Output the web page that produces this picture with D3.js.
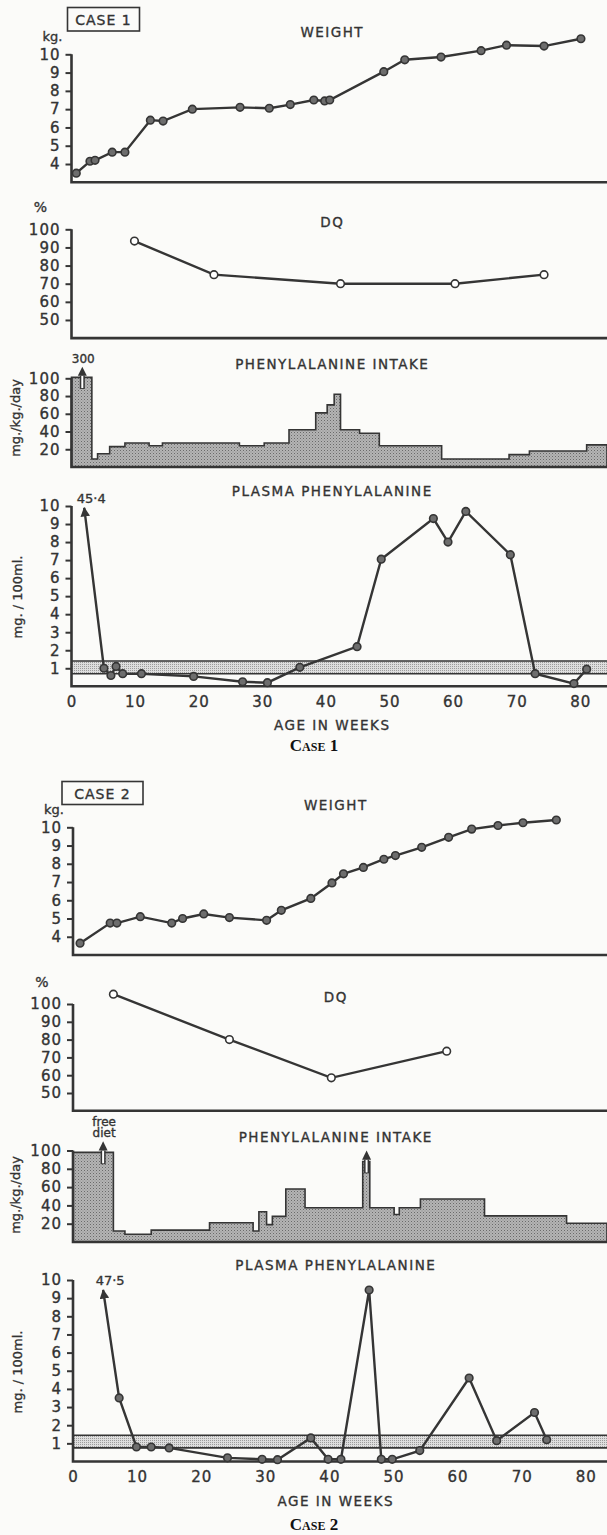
<!DOCTYPE html>
<html>
<head>
<meta charset="utf-8">
<script src="https://cdn.jsdelivr.net/npm/d3@7"></script>
<style>
body { margin: 0; background: #fbfbf9; }
svg { display: block; }
text { font-family: "DejaVu Sans", sans-serif; fill: #333; stroke: #333; stroke-width: 0.35px; }
.tick text { font-size: 15px; letter-spacing: 1px; }
.title { font-size: 13.5px; letter-spacing: 1.5px; text-anchor: middle; }
.unit { font-size: 13px; }
</style>
</head>
<body>
<svg id="chart" width="607" height="1535"></svg>
<script>
// ---- tick labels
var weightTicks = [4, 5, 6, 7, 8, 9, 10];
var dqTicks = [50, 60, 70, 80, 90, 100];
var intakeTicks = [20, 40, 60, 80, 100];
var plasmaTicks = [1, 2, 3, 4, 5, 6, 7, 8, 9, 10];
var weekTicks = [0, 10, 20, 30, 40, 50, 60, 70, 80];

// ---- case 1
var c1WeightWeeks = [0.75, 2.9, 3.7, 6.4, 8.4, 12.4, 14.4, 19, 26.5, 31.1, 34.4, 38.1, 39.8, 40.6, 49.1, 52.4, 58.1, 64.4, 68.4, 74.3, 80.1];
var c1WeightKg = [3.5, 4.15, 4.2, 4.65, 4.65, 6.4, 6.35, 7.0, 7.1, 7.05, 7.25, 7.5, 7.45, 7.5, 9.05, 9.7, 9.85, 10.2, 10.5, 10.45, 10.85];

var c1DqWeeks = [9.9, 22.4, 42.3, 60.3, 74.3];
var c1DqPct = [93.5, 75, 70, 70, 75];

var c1IntakeStart = [0, 3.2, 4.1, 6, 8.4, 12.2, 14.3, 26.4, 30.3, 34.2, 38.4, 40.2, 41.3, 42.3, 45.3, 48.4, 58.2, 68.8, 72, 81];
var c1IntakeDose = [300, 9, 15, 23, 27, 24, 27, 24, 27, 42, 61, 70, 82, 42, 38, 24, 9, 14, 18, 25];
var c1IntakeArrowWeeks = [1.7];
var c1IntakeArrowLabels = [["300"]];

var c1PlasmaWeeks = [2, 5.1, 6.2, 7, 8.05, 11, 19.2, 26.9, 30.8, 35.9, 44.9, 48.7, 56.9, 59.2, 62, 69, 72.9, 79, 81];
var c1PlasmaMg = [45.4, 1.0, 0.6, 1.1, 0.7, 0.7, 0.55, 0.25, 0.2, 1.05, 2.2, 7.05, 9.3, 8.0, 9.7, 7.3, 0.7, 0.15, 0.95];
var c1Band = [0.7, 1.4];

// ---- case 2
var c2WeightWeeks = [1.1, 5.8, 6.85, 10.5, 15.4, 17.1, 20.4, 24.4, 30.2, 32.5, 37.1, 40.4, 42.2, 45.3, 48.5, 50.3, 54.4, 58.6, 62.2, 66.3, 70.2, 75.4];
var c2WeightKg = [3.65, 4.75, 4.75, 5.1, 4.75, 5.0, 5.25, 5.05, 4.9, 5.45, 6.1, 6.95, 7.45, 7.8, 8.25, 8.45, 8.9, 9.45, 9.9, 10.1, 10.25, 10.4];

var c2DqWeeks = [6.3, 24.4, 40.3, 58.3];
var c2DqPct = [105.5, 80, 58.5, 73.5];

var c2IntakeStart = [0, 6.3, 8.1, 12.2, 21.3, 28.1, 29, 30.2, 31.1, 33.2, 36.2, 45.2, 46.3, 50.1, 50.9, 54.2, 64.2, 77];
var c2IntakeDose = [98, 12, 8.5, 13, 21, 12, 33, 19, 28, 58, 37.5, 88, 37.5, 30, 37.5, 47, 28.5, 20.5];
var c2IntakeArrowWeeks = [4.7, 45.8];
var c2IntakeArrowLabels = [["free", "diet"], []];

var c2PlasmaWeeks = [4.7, 7.2, 9.9, 12.2, 15, 24.1, 29.5, 31.9, 37.1, 39.8, 41.8, 46.2, 48.1, 49.8, 54.1, 61.8, 66.1, 72, 73.9];
var c2PlasmaMg = [47.5, 3.5, 0.8, 0.8, 0.75, 0.2, 0.12, 0.1, 1.3, 0.12, 0.12, 9.45, 0.12, 0.12, 0.6, 4.6, 1.15, 2.7, 1.2];
var c2Band = [0.75, 1.45];

var svg = d3.select("#chart"),
    width = +svg.attr("width");

var ink = "#353535";

var defs = svg.append("defs");
var stip = defs.append("pattern").attr("id", "stip")
    .attr("width", 3).attr("height", 3).attr("patternUnits", "userSpaceOnUse");
stip.append("rect").attr("width", 3).attr("height", 3).attr("fill", "#b4b4b4");
stip.append("rect").attr("width", 1).attr("height", 1).attr("fill", "#6a6a6a");
stip.append("rect").attr("x", 1.5).attr("y", 1.5).attr("width", 1).attr("height", 1).attr("fill", "#888");

var band = defs.append("pattern").attr("id", "band")
    .attr("width", 2).attr("height", 2).attr("patternUnits", "userSpaceOnUse");
band.append("rect").attr("width", 2).attr("height", 2).attr("fill", "#dedede");
band.append("rect").attr("width", 1).attr("height", 1).attr("fill", "#9c9c9c");

defs.append("marker").attr("id", "head")
    .attr("viewBox", "0 0 10 10").attr("refX", 9).attr("refY", 5)
    .attr("markerWidth", 4).attr("markerHeight", 4)
    .attr("markerUnits", "strokeWidth")
    .attr("orient", "auto-start-reverse")
  .append("path").attr("d", "M0,0L10,5L0,10Z").attr("fill", ink);

function yAxis(g, x0, y, ticks) {
    var ax = g.append("g")
        .attr("transform", "translate(" + x0 + ",0)")
        .call(d3.axisLeft(y).tickValues(ticks).tickFormat(d3.format("d")).tickSize(6).tickPadding(5));
    ax.select(".domain").remove();
    ax.selectAll(".tick line").attr("stroke", ink).attr("stroke-width", 2);
    ax.selectAll(".tick text").attr("fill", ink);
}

function frame(g, x0, y, top) {
    g.append("path")
        .attr("d", "M" + x0 + "," + y(top) + "V" + y.range()[0] + "H" + width)
        .attr("fill", "none").attr("stroke", ink).attr("stroke-width", 2.6);
}

function title(g, x, y, txt) {
    g.append("text").attr("class", "title").attr("x", x).attr("y", y).text(txt);
}

function rotLabel(g, x, y, txt) {
    g.append("text").attr("class", "unit")
        .attr("transform", "translate(" + x + "," + y + ") rotate(-90)")
        .attr("text-anchor", "middle").attr("dy", "0.35em")
        .text(txt);
}

function lineChart(g, x, y, weeks, vals, open, cap) {
    var pts = weeks.map(function(w, i) { return [w, Math.min(vals[i], cap)]; });
    g.append("path")
        .datum(pts)
        .attr("fill", "none").attr("stroke", ink).attr("stroke-width", 2.4)
        .attr("d", d3.line().x(function(d) { return x(d[0]); }).y(function(d) { return y(d[1]); }));
    g.selectAll(null).data(pts).enter().append("circle")
        .attr("cx", function(d) { return x(d[0]); })
        .attr("cy", function(d) { return y(d[1]); })
        .attr("r", 3.8)
        .attr("fill", open ? "#fff" : "#6d6d6d")
        .attr("stroke", ink).attr("stroke-width", 1.6);
}

function drawCase(c) {
    var g = svg.append("g");
    var x = d3.scaleLinear().domain([0, 80]).range([c.x0, c.x0 + 80 * c.pxWeek]);
    var xEnd = x.invert(width);
    var mx = x(41);

    // case box
    g.append("rect").attr("x", c.box[0]).attr("y", c.box[1]).attr("width", c.box[2]).attr("height", c.box[3])
        .attr("fill", "none").attr("stroke", ink).attr("stroke-width", 1.6);
    g.append("text").attr("x", c.box[0] + c.box[2] / 2).attr("y", c.box[1] + c.box[3] / 2 + 5.5)
        .attr("text-anchor", "middle").style("font-size", "14px").style("letter-spacing", "1px")
        .text(c.name);

    // weight
    var yw = d3.scaleLinear().domain([3, 10]).range(c.weightY);
    frame(g, c.x0, yw, 10);
    yAxis(g, c.x0, yw, weightTicks);
    g.append("text").attr("class", "unit").attr("x", c.x0 - 19).attr("y", yw(10) - 13)
        .attr("text-anchor", "middle").text("kg.");
    title(g, mx, yw(10) - 17, "WEIGHT");
    lineChart(g, x, yw, c.weightWeeks, c.weightKg, false, 99);

    // DQ
    var yd = d3.scaleLinear().domain([40, 100]).range(c.dqY);
    frame(g, c.x0, yd, 100);
    yAxis(g, c.x0, yd, dqTicks);
    g.append("text").attr("class", "unit").attr("x", c.x0 - 31).attr("y", yd(100) - 17)
        .attr("text-anchor", "middle").style("font-size", "14px").text("%");
    title(g, mx, c.dqTitleY, "DQ");
    lineChart(g, x, yd, c.dqWeeks, c.dqPct, true, 999);

    // intake
    var yi = d3.scaleLinear().domain([0, 100]).range(c.intakeY);
    var steps = c.intakeStart.map(function(s, i) { return [s, Math.min(c.intakeDose[i], 101)]; });
    steps.push([xEnd, steps[steps.length - 1][1]]);
    g.append("path")
        .datum(steps)
        .attr("fill", "url(#stip)").attr("stroke", ink).attr("stroke-width", 1.6)
        .attr("d", d3.area().curve(d3.curveStepAfter)
            .x(function(d) { return x(d[0]); })
            .y0(yi(0)).y1(function(d) { return yi(d[1]); }));
    frame(g, c.x0, yi, 100);
    yAxis(g, c.x0, yi, intakeTicks);
    rotLabel(g, 15, c.intakeLabelY, "mg./kg./day");
    title(g, mx, yi(100) - 9, "PHENYLALANINE  INTAKE");
    c.arrowWeeks.forEach(function(w, i) {
        var idx = d3.bisectRight(c.intakeStart, w) - 1;
        var top = Math.min(c.intakeDose[idx], 101);
        var ax = x(w);
        g.append("line").attr("x1", ax).attr("x2", ax).attr("y1", yi(top - 13)).attr("y2", yi(top + 2))
            .attr("stroke", ink).attr("stroke-width", 5);
        g.append("line").attr("x1", ax).attr("x2", ax).attr("y1", yi(top - 12)).attr("y2", yi(top + 2))
            .attr("stroke", "#fff").attr("stroke-width", 2);
        g.append("path")
            .attr("d", "M" + (ax - 4.5) + "," + yi(top + 2) + "L" + ax + "," + yi(top + 12) + "L" + (ax + 4.5) + "," + yi(top + 2) + "Z")
            .attr("fill", ink);
        c.arrowLabels[i].forEach(function(t, j, arr) {
            g.append("text").attr("x", ax + 1).attr("y", yi(top + 12) - 4 - (arr.length - 1 - j) * 11)
                .attr("text-anchor", "middle").style("font-size", "12px").text(t);
        });
    });

    // plasma
    var yp = d3.scaleLinear().domain([0, 10]).range(c.plasmaY);
    g.append("rect")
        .attr("x", c.x0).attr("width", width - c.x0)
        .attr("y", yp(c.band[1])).attr("height", yp(c.band[0]) - yp(c.band[1]))
        .attr("fill", "url(#band)");
    [c.band[0], c.band[1]].forEach(function(b) {
        g.append("line").attr("x1", c.x0).attr("x2", width).attr("y1", yp(b)).attr("y2", yp(b))
            .attr("stroke", ink).attr("stroke-width", 1.6);
    });
    frame(g, c.x0, yp, 10);
    yAxis(g, c.x0, yp, plasmaTicks);
    rotLabel(g, 17, c.plasmaLabelY, "mg. / 100ml.");
    title(g, mx, yp(10) - 10, "PLASMA PHENYLALANINE");

    var pts = c.plasmaWeeks.map(function(w, i) { return [w, Math.min(c.plasmaMg[i], c.cap)]; });
    g.append("path")
        .datum(pts)
        .attr("fill", "none").attr("stroke", ink).attr("stroke-width", 2.4)
        .attr("marker-start", "url(#head)")
        .attr("d", d3.line().x(function(d) { return x(d[0]); }).y(function(d) { return yp(d[1]); }));
    g.selectAll(null).data(pts.slice(1)).enter().append("circle")
        .attr("cx", function(d) { return x(d[0]); })
        .attr("cy", function(d) { return yp(d[1]); })
        .attr("r", 3.8)
        .attr("fill", "#6d6d6d")
        .attr("stroke", ink).attr("stroke-width", 1.6);
    g.append("text")
        .attr("x", x(c.plasmaWeeks[0]) + 7).attr("y", yp(c.cap) - 5)
        .attr("text-anchor", "middle").style("font-size", "13px")
        .text(d3.format(".1f")(c.plasmaMg[0]).replace(".", "\u00b7"));

    var xa = g.append("g")
        .attr("transform", "translate(0," + yp(0) + ")")
        .call(d3.axisBottom(x).tickValues(weekTicks).tickSize(0).tickPadding(10));
    xa.select(".domain").remove();
    xa.selectAll(".tick text").attr("fill", ink);
    title(g, mx, yp(0) + 44, "AGE IN WEEKS");

    g.append("text")
        .attr("x", 314).attr("y", yp(0) + c.captionDy)
        .attr("text-anchor", "middle")
        .style("font-family", "'Liberation Serif', serif").style("font-weight", "bold")
        .style("font-variant", "small-caps").style("font-size", "17px")
        .style("fill", "#111").style("stroke", "none")
        .text(c.caption);
}

drawCase({
    name: "CASE 1", caption: "Case 1",
    x0: 71.5, pxWeek: 6.36, box: [67.5, 7.5, 72, 23.5],
    weightY: [182.3, 54.3], dqY: [338.1, 229.3], dqTitleY: 226.5,
    intakeY: [467, 378.3], intakeLabelY: 418,
    plasmaY: [686.3, 506], plasmaLabelY: 597, cap: 9.9,
    captionDy: 65,
    weightWeeks: c1WeightWeeks, weightKg: c1WeightKg,
    dqWeeks: c1DqWeeks, dqPct: c1DqPct,
    intakeStart: c1IntakeStart, intakeDose: c1IntakeDose,
    arrowWeeks: c1IntakeArrowWeeks, arrowLabels: c1IntakeArrowLabels,
    plasmaWeeks: c1PlasmaWeeks, plasmaMg: c1PlasmaMg, band: c1Band
});

drawCase({
    name: "CASE 2", caption: "Case 2",
    x0: 73, pxWeek: 6.41, box: [62, 781.5, 81, 23],
    weightY: [955, 827.3], dqY: [1110.8, 1004], dqTitleY: 1001.5,
    intakeY: [1242, 1150.5], intakeLabelY: 1195,
    plasmaY: [1461.5, 1280], plasmaLabelY: 1372, cap: 9.45,
    captionDy: 68,
    weightWeeks: c2WeightWeeks, weightKg: c2WeightKg,
    dqWeeks: c2DqWeeks, dqPct: c2DqPct,
    intakeStart: c2IntakeStart, intakeDose: c2IntakeDose,
    arrowWeeks: c2IntakeArrowWeeks, arrowLabels: c2IntakeArrowLabels,
    plasmaWeeks: c2PlasmaWeeks, plasmaMg: c2PlasmaMg, band: c2Band
});
</script>
</body>
</html>
